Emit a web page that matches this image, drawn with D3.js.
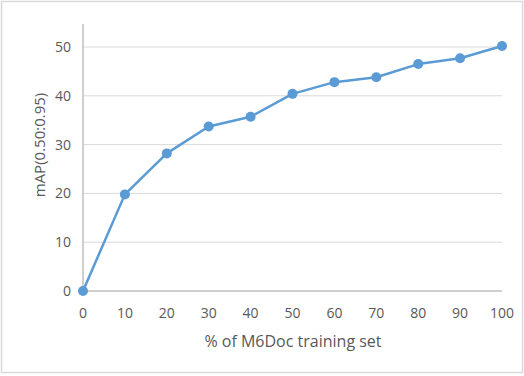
<!DOCTYPE html>
<html>
<head>
<meta charset="utf-8">
<script src="https://cdn.jsdelivr.net/npm/d3@7"></script>
<style>
  body { margin: 0; background: #fff; }
  text { font-family: "Open Sans", "Liberation Sans", sans-serif; fill: #595959; }
</style>
</head>
<body>
<svg id="chart" width="524" height="376"></svg>
<script>
const percents = [0, 10, 20, 30, 40, 50, 60, 70, 80, 90, 100];
const mapValues = [0, 19.8, 28.2, 33.7, 35.7, 40.4, 42.8, 43.8, 46.5, 47.7, 50.2];
const yTicks = [0, 10, 20, 30, 40, 50];
const xTitle = "% of M6Doc training set";
const yTitle = "mAP(0.50:0.95)";

const svg = d3.select('#chart');
const width = 524, height = 376;

// outer frame
svg.append('rect').attr('x', 1.5).attr('y', 1.5).attr('width', width - 3).attr('height', height - 5)
  .attr('fill', '#fff').attr('stroke', '#d9d9d9').attr('stroke-width', 1.5);

const xScale = d3.scaleLinear().domain([0, 100]).range([83, 502]);
const yScale = d3.scaleLinear().domain([0, 50]).range([291, 47]);

const g = svg.append('g');

// gridlines
g.selectAll('.grid').data(yTicks.filter(d => d > 0)).join('line').attr('class', 'grid')
  .attr('x1', xScale(0)).attr('x2', xScale(100))
  .attr('y1', d => yScale(d)).attr('y2', d => yScale(d))
  .attr('stroke', '#d9d9d9').attr('stroke-width', 1);

// axes lines
g.append('line').attr('x1', xScale(0)).attr('x2', xScale(0)).attr('y1', yScale(0)).attr('y2', 24)
  .attr('stroke', '#bfbfbf').attr('stroke-width', 1.5);
g.append('line').attr('x1', xScale(0)).attr('x2', xScale(100)).attr('y1', yScale(0)).attr('y2', yScale(0))
  .attr('stroke', '#bfbfbf').attr('stroke-width', 1.5);

// tick labels
g.selectAll('.ylab').data(yTicks).join('text').attr('class', 'ylab')
  .attr('x', 71).attr('y', d => yScale(d)).attr('dy', '0.35em')
  .attr('text-anchor', 'end').style('font-size', '14px').text(d => d);

g.selectAll('.xlab').data(percents).join('text').attr('class', 'xlab')
  .attr('x', d => xScale(d)).attr('y', 313).attr('dy', '0.35em')
  .attr('text-anchor', 'middle').style('font-size', '14px').text(d => d);

// titles
g.append('text').attr('x', 293).attr('y', 341).attr('dy', '0.35em')
  .attr('text-anchor', 'middle').style('font-size', '16px').text(xTitle);
g.append('text').attr('transform', 'translate(40,145) rotate(-90)').attr('dy', '0.35em')
  .attr('text-anchor', 'middle').style('font-size', '15px').text(yTitle);

// series
const line = d3.line().x((d, i) => xScale(percents[i])).y(d => yScale(d));
g.append('path').datum(mapValues).attr('d', line)
  .attr('fill', 'none').attr('stroke', '#5b9bd5').attr('stroke-width', 2.5).attr('stroke-linejoin', 'round');
g.selectAll('.pt').data(mapValues).join('circle').attr('class', 'pt')
  .attr('cx', (d, i) => xScale(percents[i])).attr('cy', d => yScale(d)).attr('r', 5)
  .attr('fill', '#5b9bd5');
</script>
</body>
</html>
